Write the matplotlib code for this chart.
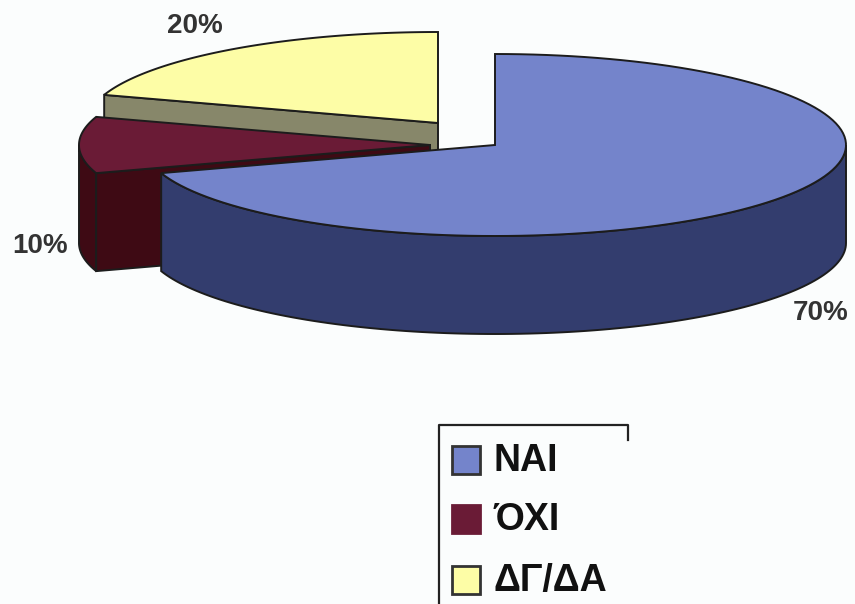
import numpy as np
import matplotlib
matplotlib.use("Agg")
import matplotlib.pyplot as plt
from matplotlib.patches import Rectangle

labels = ["ΝΑΙ", "ΌΧΙ", "ΔΓ/ΔΑ"]
values = [70, 10, 20]
pct_labels = ["70%", "10%", "20%"]

top_colors = ["#7484CB", "#6A1B36", "#FDFDA6"]
wall_colors = ["#333D6E", "#3E0A14", "#87876A"]
edge = "#1c1c1c"
bg = "#FBFDFD"

# slice apex in pixels (each one is pulled out a bit differently)
apex = [(495, 145), (430, 145), (438, 123)]
rx, ry = 351, 91
depth = 98

plt.rcParams["font.family"] = ["Liberation Sans", "DejaVu Sans"]
fig = plt.figure(figsize=(8.55, 6.04), dpi=100, facecolor=bg)
ax = fig.add_axes([0, 0, 1, 1])
ax.set_xlim(0, 855)
ax.set_ylim(604, 0)
ax.axis("off")


def arc(c, a0, a1):
    # angles in degrees, clockwise from 12 o'clock
    t = np.radians(np.linspace(a0, a1, 120))
    return c[0] + rx * np.sin(t), c[1] - ry * np.cos(t)


fracs = np.array(values) / sum(values) * 360
starts = np.concatenate([[0], np.cumsum(fracs)[:-1]])

# back to front, so the nearer slices hide the walls behind them
for i in [2, 1, 0]:
    a0, a1 = starts[i], starts[i] + fracs[i]
    c = apex[i]

    # outer wall, front half of the ellipse only
    w0, w1 = max(a0, 90), min(a1, 270)
    if w1 > w0:
        x, y = arc(c, w0, w1)
        ax.fill(np.r_[x, x[::-1]], np.r_[y, y[::-1] + depth],
                fc=wall_colors[i], ec=edge, lw=1.4, zorder=i * -10 + 1)

    # cut face at the start of the slice, looks to the front on the left side
    if a0 > 180:
        ex, ey = arc(c, a0, a0)
        ax.fill([c[0], ex[0], ex[0], c[0]],
                [c[1], ey[0], ey[0] + depth, c[1] + depth],
                fc=wall_colors[i], ec=edge, lw=1.4, zorder=i * -10 + 1)

    x, y = arc(c, a0, a1)
    ax.fill(np.r_[c[0], x], np.r_[c[1], y],
            fc=top_colors[i], ec=edge, lw=1.4, zorder=i * -10 + 2)

# percent labels
pct_pos = [(821, 313), (40, 246), (195, 26)]
for s, (px, py) in zip(pct_labels, pct_pos):
    ax.text(px, py, s, fontsize=20, fontweight="bold", color="#333333",
            ha="center", va="center", zorder=5)

# legend box, cut off at the bottom of the scan
ax.plot([439, 439, 628, 628], [604, 425, 425, 440], color="#222222", lw=1.6,
        zorder=5)
leg_y = [461, 520, 581]
box_y = [459.5, 518.5, 579.5]
for i, ly in enumerate(leg_y):
    ax.add_patch(Rectangle((452, box_y[i] - 14), 28, 28, fc=top_colors[i],
                           ec="#333333" if i != 1 else top_colors[i], lw=2,
                           zorder=5))
    ax.text(493, ly, labels[i], fontsize=27, fontweight="bold", color="#111111",
            ha="left", va="center", zorder=5)

fig.savefig("out.png", dpi=100, facecolor=bg)
